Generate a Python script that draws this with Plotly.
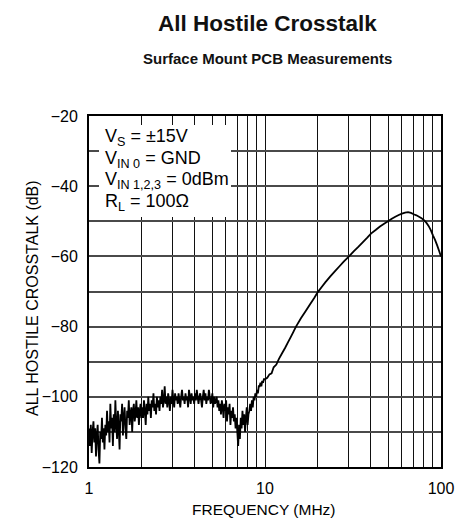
import plotly.graph_objects as go

# ---------------- data ----------------
freq_low_a = [1.000,1.012,1.024,1.036,1.048,1.060,1.072,1.084,1.096,1.108,
              1.120,1.133,1.146,1.159,1.172,1.185,1.198,1.211,1.224,1.238,
              1.252,1.266,1.280,1.294,1.308,1.322,1.337,1.352,1.367,1.382,
              1.397,1.412,1.428,1.444,1.460,1.476,1.492,1.508,1.525,1.542,
              1.559,1.576,1.593,1.611,1.629,1.647,1.665,1.683,1.702,1.721,
              1.740,1.759,1.778,1.798,1.818,1.838,1.858,1.879,1.900,1.921,
              1.942,1.963,1.985]
db_low_a = [-109,-114,-108,-116,-110,-107,-113,-109,-117,-111,
            -108,-115,-119,-110,-112,-106,-113,-109,-115,-108,
            -111,-104,-110,-107,-113,-102,-109,-106,-114,-105,
            -110,-101,-108,-112,-104,-109,-115,-105,-107,-102,
            -111,-106,-103,-109,-112,-104,-106,-101,-108,-105,
            -103,-110,-104,-102,-107,-105,-101,-106,-103,-108,
            -104,-102,-106]

freq_low_b = [2.007,2.030,2.053,2.076,2.100,2.124,2.148,2.172,2.197,2.222,
              2.247,2.272,2.298,2.324,2.350,2.377,2.404,2.431,2.459,2.487,
              2.515,2.544,2.573,2.602,2.632,2.662,2.692,2.723,2.754,2.785,
              2.817,2.849,2.881,2.914,2.947,2.981,3.015,3.049,3.084,3.119,
              3.155,3.191,3.227,3.264,3.301,3.339,3.377,3.416,3.455,3.494,
              3.534,3.574,3.615,3.656,3.698,3.740,3.783,3.826,3.870,3.914,
              3.959,4.004,4.050,4.096,4.143,4.190,4.238,4.286,4.335,4.384,
              4.434,4.485,4.536,4.588,4.640,4.693,4.746,4.800,4.855,4.910,
              4.966,5.022,5.080,5.138,5.196,5.255]
db_low_b = [-103,-106,-101,-104,-108,-102,-105,-100,-104,-102,
            -106,-101,-103,-99,-104,-102,-105,-100,-103,-101,
            -104,-100,-102,-98,-103,-101,-97,-102,-100,-103,
            -99,-101,-104,-100,-102,-98,-101,-103,-99,-101,
            -100,-102,-99,-101,-103,-100,-98,-101,-100,-102,
            -99,-101,-100,-103,-98,-100,-102,-99,-101,-100,
            -102,-99,-101,-98,-100,-102,-100,-99,-101,-103,
            -100,-98,-101,-99,-102,-100,-101,-98,-100,-102,
            -101,-99,-103,-100,-102,-101]

freq_low_c = [5.315,5.375,5.436,5.497,5.559,5.622,5.686,5.750,5.815,5.881,
              5.947,6.014,6.082,6.151,6.221,6.291,6.362,6.434,6.507,6.581,
              6.655,6.730,6.806,6.883,6.961,7.040,7.120,7.200,7.282,7.364,
              7.447,7.531,7.616,7.702,7.789,7.877,7.966,8.056,8.147,8.239,
              8.332,8.426,8.521,8.617,8.714,8.812,8.911,9.011,9.113,9.216,
              9.320,9.425,9.532,9.640,9.749,9.859,9.970]
db_low_c = [-100,-103,-101,-104,-102,-105,-101,-103,-106,-102,
            -104,-101,-107,-103,-105,-102,-108,-104,-106,-103,
            -107,-105,-109,-106,-110,-114,-108,-112,-106,-109,
            -104,-108,-105,-110,-106,-103,-108,-105,-104,-102,
            -104,-101,-103,-100,-101,-99,-100,-98,-99,-97,
            -97,-96,-97,-95.5,-96,-95,-95]

freq_high = [10.3,10.6,10.9,11.2,11.6,12,12.5,13,13.5,14,14.5,15,16,17,18,19,20,
             21,22,23.5,25,26.5,28,30,32,34,36,38,40,42.5,45,47.5,50,52.5,55,
             57.5,60,62.5,65,67.5,70,72.5,75,77.5,80,82.5,85,87.5,90,92.5,95,
             97.5,100]
db_high = [-94.6,-93.6,-93.3,-91.6,-90.8,-89.2,-87.6,-86.1,-84.5,-83,-81.5,-80,
           -77.6,-75.6,-73.7,-71.9,-70.1,-68.7,-67.4,-65.7,-64.2,-62.8,-61.5,
           -60,-58.5,-57.2,-55.9,-54.7,-53.5,-52.5,-51.5,-50.7,-50,-49.3,-48.7,
           -48.2,-47.8,-47.5,-47.4,-47.6,-48,-48.3,-48.7,-49.1,-49.7,-50.4,
           -51.3,-52.5,-54,-55.3,-56.8,-58.4,-60]

freq_all = freq_low_a + freq_low_b + freq_low_c + freq_high
db_all = db_low_a + db_low_b + db_low_c + db_high

x_tick_vals = [1,2,3,4,5,6,7,8,9,10,20,30,40,50,60,70,80,90,100]
x_tick_text = ["1","","","","","","","","","10","","","","","","","","","100"]
y_tick_vals = [-120,-110,-100,-90,-80,-70,-60,-50,-40,-30,-20]
y_tick_text = ["\u2212120","","\u2212100","","\u221280","","\u221260","","\u221240","","\u221220"]

cond_lines = ["V<sub>S</sub> = \u00b115V",
              "V<sub>IN 0</sub> = GND",
              "V<sub>IN 1,2,3</sub> = 0dBm",
              "R<sub>L</sub> = 100\u03a9"]

# ---------------- styling ----------------
REG = "Liberation Sans, Arial, sans-serif"
W, H = 467, 519
L, R, T, B = 89, 26, 116, 52
PH = H - T - B

fig = go.Figure()
fig.add_trace(go.Scatter(x=freq_all, y=db_all, mode="lines",
                         line=dict(color="black", width=1.8, simplify=False),
                         showlegend=False, hoverinfo="skip"))

fig.update_xaxes(type="log", range=[0, 2], tickvals=x_tick_vals, ticktext=x_tick_text,
                 showgrid=True, gridcolor="#111111", gridwidth=1.2,
                 showline=True, linecolor="black", linewidth=2, mirror=True,
                 ticks="", ticklabelstandoff=6, zeroline=False,
                 tickfont=dict(family=REG, size=16, color="black"))
fig.update_yaxes(range=[-120, -20], tickvals=y_tick_vals, ticktext=y_tick_text,
                 showgrid=True, gridcolor="#4a4a4a", gridwidth=1.5,
                 showline=True, linecolor="black", linewidth=2, mirror=True,
                 ticks="", ticklabelstandoff=6, zeroline=False,
                 tickfont=dict(family=REG, size=16, color="black"))

def py(pix):
    return 1 - (pix - T) / PH

# white box behind the conditions text
fig.add_shape(type="rect", xref="paper", yref="paper",
              x0=(99 - L) / 352, x1=(231 - L) / 352, y0=py(217), y1=py(125),
              fillcolor="white", line=dict(width=0), layer="above")

ann = []
ann.append(dict(text="<b>All Hostile Crosstalk</b>", x=0.506, y=py(24), xref="paper", yref="paper",
                xanchor="center", yanchor="middle", showarrow=False,
                font=dict(family=REG, size=22.5, color="#111111")))
ann.append(dict(text="<b>Surface Mount PCB Measurements</b>", x=0.506, y=py(58), xref="paper", yref="paper",
                xanchor="center", yanchor="middle", showarrow=False,
                font=dict(family=REG, size=15, color="#111111")))
ann.append(dict(text="FREQUENCY (MHz)", x=(264 - L) / 352, y=py(509), xref="paper", yref="paper",
                xanchor="center", yanchor="middle", showarrow=False,
                font=dict(family=REG, size=15.5, color="black")))
ann.append(dict(text="ALL HOSTILE CROSSTALK (dB)", x=(32 - L) / 352, y=py(298), xref="paper", yref="paper",
                xanchor="center", yanchor="middle", showarrow=False, textangle=-90,
                font=dict(family=REG, size=16, color="black")))
line_centers = [137, 159, 180.5, 202.5]
for txt, c in zip(cond_lines, line_centers):
    ann.append(dict(text=txt, x=(103 - L) / 352, y=py(c), xref="paper", yref="paper",
                    xanchor="left", yanchor="middle", showarrow=False,
                    font=dict(family=REG, size=18, color="black")))

fig.update_layout(width=W, height=H, margin=dict(l=L, r=R, t=T, b=B),
                  paper_bgcolor="white", plot_bgcolor="white",
                  annotations=ann)

fig.write_html("out.html", config={"displayModeBar": False},
               post_script="document.body.style.margin='0';")
